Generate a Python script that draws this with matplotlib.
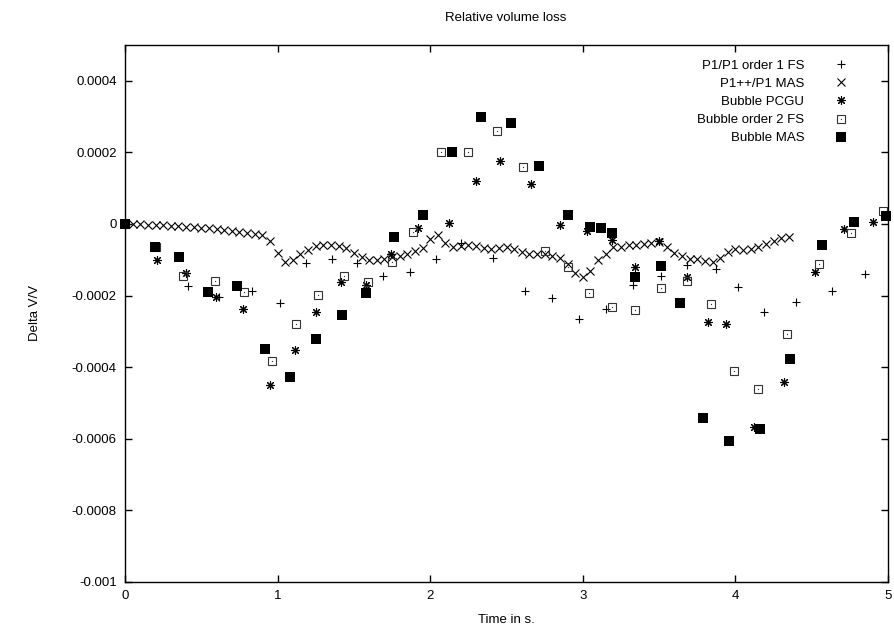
import numpy as np
import matplotlib
matplotlib.use("Agg")
import matplotlib.pyplot as plt
from matplotlib.legend_handler import HandlerTuple

plt.rcParams['font.family'] = ['Liberation Sans', 'DejaVu Sans']
plt.rcParams['font.size'] = 9.5

# P1/P1 order 1 FS  (+)
t_p1 = [0.0, 0.41, 0.616, 0.832, 1.016, 1.186, 1.356, 1.52, 1.69, 1.87, 2.04, 2.20,
        2.41, 2.62, 2.80, 2.975, 3.15, 3.33, 3.51, 3.68, 3.87, 4.02, 4.19, 4.40, 4.63, 4.85]
v_p1 = [0.0, -1.72e-4, -2.03e-4, -1.86e-4, -2.2e-4, -1.1e-4, -9.9e-5, -1.1e-4, -1.44e-4,
        -1.35e-4, -9.9e-5, -5.4e-5, -9.6e-5, -1.86e-4, -2.06e-4, -2.65e-4, -2.37e-4,
        -1.69e-4, -1.46e-4, -1.15e-4, -1.27e-4, -1.77e-4, -2.45e-4, -2.17e-4, -1.86e-4, -1.41e-4]

# P1++/P1 MAS  (x)
t_mas = [0.00, 0.05, 0.10, 0.15, 0.20, 0.25, 0.30, 0.35, 0.40, 0.45, 0.50, 0.55, 0.60, 0.65,
         0.70, 0.75, 0.80, 0.85, 0.90, 0.95, 1.00, 1.05, 1.10, 1.15, 1.20, 1.25, 1.30, 1.35,
         1.40, 1.45, 1.50, 1.55, 1.60, 1.65, 1.70, 1.75, 1.80, 1.85, 1.90, 1.95, 2.00, 2.05,
         2.10, 2.15, 2.20, 2.25, 2.30, 2.35, 2.40, 2.45, 2.50, 2.55, 2.60, 2.65, 2.70, 2.75,
         2.80, 2.85, 2.90, 2.95, 3.00, 3.05, 3.10, 3.15, 3.20, 3.25, 3.30, 3.35, 3.40, 3.45,
         3.50, 3.55, 3.60, 3.65, 3.70, 3.75, 3.80, 3.85, 3.90, 3.95, 4.00, 4.05, 4.10, 4.15,
         4.20, 4.25, 4.30, 4.35]
v_mas = [0.0, -1e-6, -1e-6, -2e-6, -3e-6, -4e-6, -5e-6, -6e-6, -7e-6, -9e-6, -1.1e-5, -1.2e-5,
         -1.5e-5, -1.7e-5, -2.0e-5, -2.2e-5, -2.5e-5, -2.8e-5, -3.2e-5, -4.8e-5, -8.0e-5,
         -1.05e-4, -1.0e-4, -8.5e-5, -7.2e-5, -6.2e-5, -6.0e-5, -6.0e-5, -6.2e-5, -6.8e-5,
         -8.0e-5, -9.2e-5, -1.0e-4, -1.01e-4, -9.8e-5, -9.3e-5, -8.9e-5, -8.5e-5, -7.6e-5,
         -6.6e-5, -4.2e-5, -3.0e-5, -5.3e-5, -6.5e-5, -6.2e-5, -5.9e-5, -6.2e-5, -6.6e-5,
         -7.0e-5, -6.8e-5, -6.5e-5, -7.0e-5, -7.8e-5, -8.3e-5, -8.5e-5, -8.5e-5, -8.8e-5,
         -9.5e-5, -1.12e-4, -1.37e-4, -1.48e-4, -1.3e-4, -1.01e-4, -8.5e-5, -6.5e-5, -6.4e-5,
         -6.0e-5, -5.8e-5, -5.6e-5, -5.3e-5, -5.1e-5, -6.5e-5, -8.0e-5, -8.8e-5, -9.9e-5,
         -9.9e-5, -1.04e-4, -1.05e-4, -9.4e-5, -7.9e-5, -7.0e-5, -7.2e-5, -7.0e-5, -6.4e-5,
         -5.7e-5, -4.7e-5, -4.0e-5, -3.6e-5]

# Bubble PCGU  (asterisk)
t_pcgu = [0.0, 0.21, 0.40, 0.596, 0.773, 0.95, 1.114, 1.25, 1.415, 1.58, 1.74, 1.92, 2.12,
          2.30, 2.46, 2.66, 2.85, 3.03, 3.19, 3.34, 3.50, 3.68, 3.82, 3.94, 4.12, 4.32,
          4.52, 4.71, 4.90]
v_pcgu = [0.0, -1.01e-4, -1.38e-4, -2.03e-4, -2.37e-4, -4.51e-4, -3.52e-4, -2.45e-4,
          -1.61e-4, -1.69e-4, -8.5e-5, -1.1e-5, 3e-6, 1.21e-4, 1.77e-4, 1.13e-4, -3e-6,
          -2e-5, -4.5e-5, -1.21e-4, -4.8e-5, -1.49e-4, -2.73e-4, -2.79e-4, -5.66e-4,
          -4.42e-4, -1.35e-4, -1.4e-5, 6e-6]

# Bubble order 2 FS  (open square)
t_o2 = [0.0, 0.2, 0.38, 0.59, 0.78, 0.963, 1.12, 1.265, 1.435, 1.59, 1.75, 1.89, 2.07,
        2.25, 2.44, 2.61, 2.75, 2.90, 3.04, 3.19, 3.34, 3.51, 3.68, 3.84, 3.99, 4.15,
        4.34, 4.55, 4.76, 4.97]
v_o2 = [0.0, -6.5e-5, -1.46e-4, -1.58e-4, -1.89e-4, -3.83e-4, -2.79e-4, -1.97e-4,
        -1.46e-4, -1.63e-4, -1.07e-4, -2.3e-5, 2.0e-4, 2.0e-4, 2.59e-4, 1.58e-4, -7.6e-5,
        -1.21e-4, -1.94e-4, -2.31e-4, -2.39e-4, -1.8e-4, -1.58e-4, -2.23e-4, -4.11e-4,
        -4.62e-4, -3.07e-4, -1.13e-4, -2.5e-5, 3.7e-5]

# Bubble MAS  (filled square)
t_bm = [0.0, 0.197, 0.354, 0.544, 0.734, 0.917, 1.08, 1.25, 1.42, 1.58, 1.76, 1.95, 2.14,
        2.33, 2.53, 2.71, 2.90, 3.05, 3.12, 3.19, 3.34, 3.51, 3.64, 3.79, 3.96, 4.16,
        4.36, 4.57, 4.78, 4.99]
v_bm = [0.0, -6.5e-5, -9.3e-5, -1.89e-4, -1.72e-4, -3.49e-4, -4.28e-4, -3.21e-4, -2.54e-4,
        -1.92e-4, -3.7e-5, 2.5e-5, 2.0e-4, 2.99e-4, 2.82e-4, 1.63e-4, 2.5e-5, -8e-6, -1.1e-5,
        -2.5e-5, -1.49e-4, -1.16e-4, -2.2e-4, -5.41e-4, -6.06e-4, -5.72e-4, -3.77e-4,
        -5.9e-5, 6e-6, 2.3e-5]

yticks = [0.0004, 0.0002, 0, -0.0002, -0.0004, -0.0006, -0.0008, -0.001]
ytick_labels = ['0.0004', '0.0002', '0', '-0.0002', '-0.0004', '-0.0006', '-0.0008', '-0.001']
xticks = [0, 1, 2, 3, 4, 5]

fig = plt.figure(figsize=(8.95, 6.34), dpi=100)
ax = fig.add_axes([125 / 895, 1 - 582 / 634, 763 / 895, 537 / 634])

ew = 0.8
h1, = ax.plot(t_p1, v_p1, ls='none', marker='+', ms=5.8, mew=ew, color='black', clip_on=False)
h2, = ax.plot(t_mas, v_mas, ls='none', marker='x', ms=6.3, mew=ew, color='black', clip_on=False)
h3, = ax.plot(t_pcgu, v_pcgu, ls='none', marker=(8, 2, 0), ms=6.2, mew=ew, color='black', clip_on=False)
h4a, = ax.plot(t_o2, v_o2, ls='none', marker='s', ms=5.5, mew=ew, mfc='none', mec='#333333', clip_on=False)
h4b, = ax.plot(t_o2, v_o2, ls='none', marker='s', ms=0.8, mew=0, color='#333333', clip_on=False)
h5, = ax.plot(t_bm, v_bm, ls='none', marker='s', ms=6.5, mew=0, color='black', clip_on=False)

ax.set_xlim(0, 5)
ax.set_ylim(-0.001, 0.0005)
ax.set_xticks(xticks)
ax.set_xticklabels([str(x) for x in xticks])
ax.set_yticks(yticks)
ax.set_yticklabels(ytick_labels)
ax.tick_params(direction='in', length=5, width=1, top=True, right=True, pad=6)
for s in ax.spines.values():
    s.set_linewidth(1.0)

leg = ax.legend([h1, h2, h3, (h4a, h4b), h5],
                ['P1/P1 order 1 FS', 'P1++/P1 MAS', 'Bubble PCGU', 'Bubble order 2 FS', 'Bubble MAS'],
                handler_map={tuple: HandlerTuple(ndivide=1)},
                loc='upper right', bbox_to_anchor=(0.963, 0.983), borderaxespad=0,
                markerfirst=False, frameon=False, numpoints=1,
                handlelength=2.0, handletextpad=1.8, labelspacing=0.45)

fig.text(506 / 895, 1 - 18 / 634, 'Relative volume loss', ha='center', va='center')
fig.text(506 / 895, 1 - 620 / 634, 'Time in s.', ha='center', va='center')
fig.text(35 / 895, 1 - 313 / 634, 'Delta V/V', ha='center', va='center', rotation=90)

fig.savefig('out.png', dpi=100)
